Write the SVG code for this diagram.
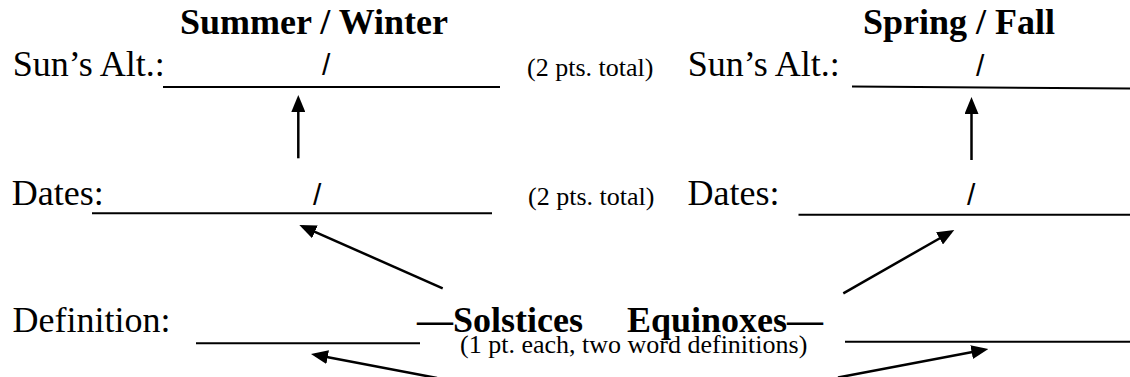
<svg xmlns="http://www.w3.org/2000/svg" width="1130" height="377" viewBox="0 0 1130 377">
<style>
.t{font-family:"Liberation Serif","Times New Roman",serif;font-size:36px;fill:#000}
.b{font-weight:bold}
.s{font-family:"Liberation Serif","Times New Roman",serif;font-size:26px;fill:#000}
.sl{font-family:"Liberation Sans",Arial,sans-serif;font-size:30px;fill:#000}
.ul{stroke:#000;stroke-width:2;fill:none}
.ar{stroke:#000;stroke-width:2.5;fill:none;marker-end:url(#ah)}
</style>
<defs>
<marker id="ah" markerUnits="userSpaceOnUse" markerWidth="17" markerHeight="14" refX="13" refY="7" orient="auto">
<path d="M0,0 L17,7 L0,14 z" fill="#000"/>
</marker>
</defs>
<rect width="1130" height="377" fill="#fff"/>
<g id="title-solstice"><text class="t b" x="180" y="34">Summer / Winter</text></g>
<g id="title-equinox"><text class="t b" x="863" y="34">Spring / Fall</text></g>
<g id="alt-left">
<text class="t" x="12.7" y="76">Sun’s Alt.:</text>
<line class="ul" x1="163" y1="87" x2="500" y2="87"/>
<text class="sl" x="322" y="75">/</text>
</g>
<g id="alt-points"><text class="s" x="527" y="76">(2 pts. total)</text></g>
<g id="alt-right">
<text class="t" x="687.7" y="76">Sun’s Alt.:</text>
<line class="ul" x1="852" y1="86.5" x2="1130" y2="88.5"/>
<text class="sl" x="976" y="76">/</text>
</g>
<g id="dates-left">
<text class="t" x="11.7" y="205">Dates:</text>
<line class="ul" x1="92" y1="213.3" x2="492" y2="213.3"/>
<text class="sl" x="313" y="205">/</text>
</g>
<g id="dates-points"><text class="s" x="528" y="205">(2 pts. total)</text></g>
<g id="dates-right">
<text class="t" x="687.5" y="205">Dates:</text>
<line class="ul" x1="798.5" y1="214.8" x2="1130" y2="214.8"/>
<text class="sl" x="967" y="205">/</text>
</g>
<g id="definition-left">
<text class="t" x="12.6" y="332">Definition:</text>
<line class="ul" x1="196" y1="343.3" x2="420" y2="343.3"/>
</g>
<g id="solstices"><text class="t b" x="417" y="332">—Solstices</text></g>
<g id="equinoxes"><text class="t b" x="627" y="332">Equinoxes—</text></g>
<g id="definition-right">
<line class="ul" x1="845" y1="341.7" x2="1130" y2="341.7"/>
</g>
<g id="definition-note"><text class="s" x="460" y="353">(1 pt. each, two word definitions)</text></g>
<g id="connectors">
<line class="ar" x1="298.3" y1="158.3" x2="298.3" y2="99"/>
<line class="ar" x1="971.5" y1="160" x2="971.5" y2="101"/>
<line class="ar" x1="442.7" y1="288.3" x2="303" y2="226.6"/>
<line class="ar" x1="843.3" y1="293.3" x2="950.8" y2="232"/>
<line class="ar" x1="437" y1="378" x2="314.9" y2="354.7"/>
<line class="ar" x1="838" y1="377.5" x2="984.4" y2="349.7"/>
</g>
</svg>
